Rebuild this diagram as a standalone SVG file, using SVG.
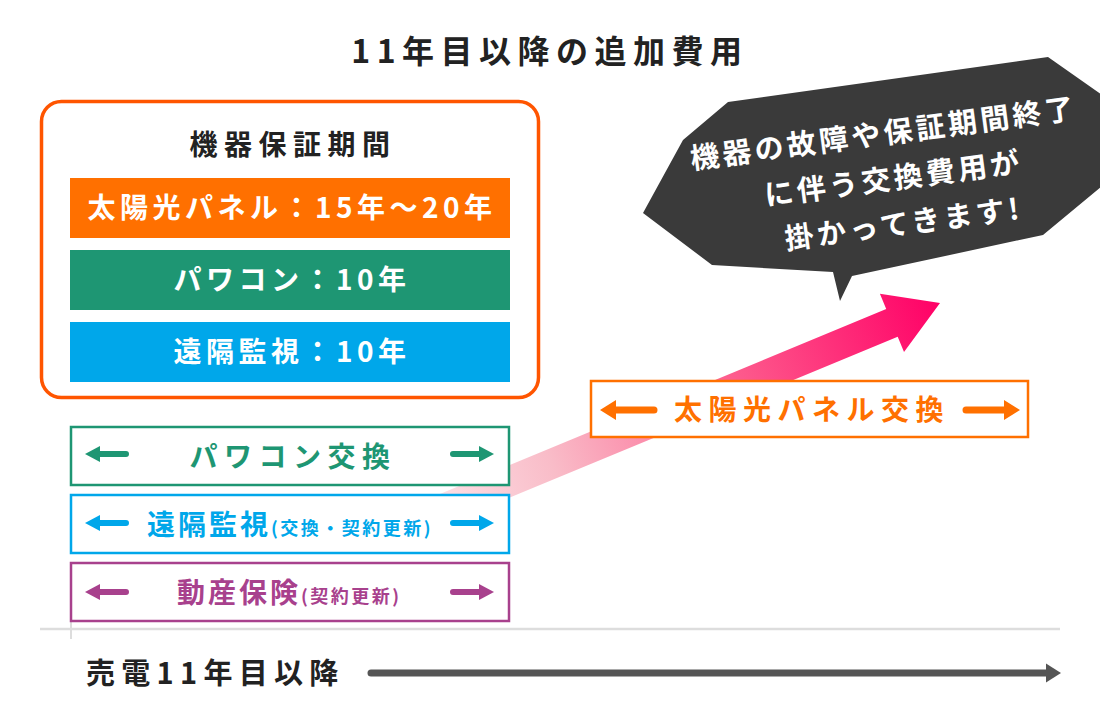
<svg xmlns="http://www.w3.org/2000/svg" width="1100" height="720" viewBox="0 0 1100 720">
<style>
text{font-family:"Noto Sans CJK JP","Noto Sans CJK SC",sans-serif;}
.t{font-weight:700;}
.bar{font-size:28px;fill:#fff;font-weight:700;letter-spacing:4.5px;text-anchor:middle;}
.lbl{font-size:28px;font-weight:700;letter-spacing:6.5px;}
.bub{font-size:29px;font-weight:700;fill:#fff;letter-spacing:3.5px;text-anchor:middle;}
</style>
<defs>
<linearGradient id="pg" gradientUnits="userSpaceOnUse" x1="-560" y1="0" x2="0" y2="0">
<stop offset="0" stop-color="#FDE6EA"/>
<stop offset="0.25" stop-color="#F9BCC8"/>
<stop offset="0.6" stop-color="#FD5E8E"/>
<stop offset="1" stop-color="#FF0066"/>
</linearGradient>
<path id="al" d="M0 0 L15 -8 L15 -3 L41 -3 A3 3 0 0 1 41 3 L15 3 L15 8 Z"/>
<path id="ar" d="M0 0 L-15 -8 L-15 -3 L-41 -3 A3 3 0 0 0 -41 3 L-15 3 L-15 8 Z"/>
<path id="bl" d="M0 0 L16 -10 L16 -3.5 L54 -3.5 A3.5 3.5 0 0 1 54 3.5 L16 3.5 L16 10 Z"/>
<path id="br" d="M0 0 L-16 -10 L-16 -3.5 L-54 -3.5 A3.5 3.5 0 0 0 -54 3.5 L-16 3.5 L-16 10 Z"/>
</defs>
<rect width="1100" height="720" fill="#fff"/>

<g id="title">
<text class="t" x="550" y="63" font-size="32" letter-spacing="6.5" text-anchor="middle" fill="#222">11年目以降の追加費用</text>
</g>

<g id="connectors">
<g id="rise-arrow" transform="translate(940,303) rotate(-22.5)">
<polygon points="0,0 -52,-31.5 -52,-15 -560,-15 -560,15 -52,15 -52,31.5" fill="url(#pg)"/>
</g>
<line x1="40" y1="629" x2="1060" y2="629" stroke="#dddddd" stroke-width="2.5"/>
<line x1="71" y1="621" x2="71" y2="639" stroke="#dddddd" stroke-width="2"/>
<g id="timeline-arrow">
<line x1="371" y1="673" x2="1050" y2="673" stroke="#555" stroke-width="7" stroke-linecap="round"/>
<polygon points="1046,663.5 1061,673 1046,682.5" fill="#555"/>
</g>
</g>

<g id="warranty">
<rect x="41.5" y="101.5" width="497" height="296" rx="20" fill="#fff" stroke="#FF5500" stroke-width="3.5"/>
<text class="t" x="293" y="155" font-size="28" letter-spacing="6.5" text-anchor="middle" fill="#222">機器保証期間</text>
</g>
<g id="bar-panel">
<rect x="70" y="178" width="440" height="60" fill="#FF7000"/>
<text class="bar" x="292" y="218">太陽光パネル：15年〜20年</text>
</g>
<g id="bar-pcs">
<rect x="70" y="250" width="440" height="60" fill="#1E9673"/>
<text class="bar" x="292" y="290">パワコン：10年</text>
</g>
<g id="bar-monitor">
<rect x="70" y="322" width="440" height="60" fill="#00A7EA"/>
<text class="bar" x="292" y="362">遠隔監視：10年</text>
</g>

<g id="pcs-exchange">
<rect x="71" y="427" width="438" height="58" fill="#fff" stroke="#1E9673" stroke-width="2.5"/>
<use href="#al" x="85" y="454" fill="#1E9673"/>
<use href="#ar" x="494" y="454" fill="#1E9673"/>
<text class="lbl" x="293" y="467" text-anchor="middle" fill="#1E9673">パワコン交換</text>
</g>
<g id="monitor-renew">
<rect x="71" y="495" width="438" height="58" fill="#fff" stroke="#00A7EA" stroke-width="2.5"/>
<use href="#al" x="85" y="523" fill="#00A7EA"/>
<use href="#ar" x="494" y="523" fill="#00A7EA"/>
<text x="147" y="535" fill="#00A7EA" class="t"><tspan font-size="28" letter-spacing="3">遠隔監視</tspan><tspan font-size="18" letter-spacing="2.5">(交換・契約更新)</tspan></text>
</g>
<g id="insurance">
<rect x="71" y="563" width="438" height="58" fill="#fff" stroke="#A8418D" stroke-width="2.5"/>
<use href="#al" x="85" y="592" fill="#A8418D"/>
<use href="#ar" x="494" y="592" fill="#A8418D"/>
<text x="177" y="603" fill="#A8418D" class="t"><tspan font-size="28" letter-spacing="3">動産保険</tspan><tspan font-size="18" letter-spacing="2.5">(契約更新)</tspan></text>
</g>

<g id="panel-exchange">
<rect x="591" y="381" width="437" height="56" fill="#fff" stroke="#FF7000" stroke-width="2.5"/>
<use href="#bl" x="600" y="410" fill="#FF7000"/>
<use href="#br" x="1020" y="410" fill="#FF7000"/>
<text class="lbl" x="812" y="420" text-anchor="middle" fill="#FF7000">太陽光パネル交換</text>
</g>

<g id="bubble">
<polygon points="728,102 1048,57 1095,90 1102,95 1102,186 1043,235 852,276 840,301 833,272 712,265 643,213 683,140" fill="#3A3A3A"/>
<g transform="translate(883,144) rotate(-7.5)">
<text class="bub" x="2" y="0">機器の故障や保証期間終了</text>
<text class="bub" x="6" y="46">に伴う交換費用が</text>
<text class="bub" x="10" y="92">掛かってきます!</text>
</g>
</g>

<g id="timeline-label">
<text class="t" x="86" y="684" font-size="29" letter-spacing="6.3" fill="#222">売電11年目以降</text>
</g>
</svg>
